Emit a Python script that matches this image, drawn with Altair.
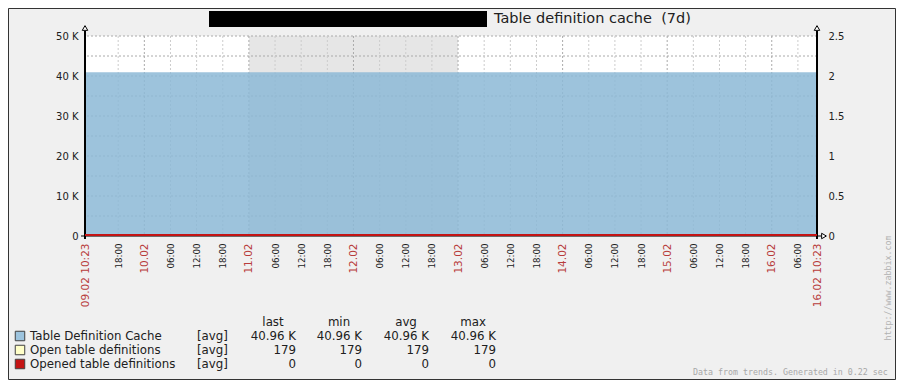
import altair as alt
import pandas as pd

# ---------------- data ----------------
TITLE = "Table definition cache\u00a0 (7d)"
times = ["2017-02-09T10:23:00Z", "2017-02-16T10:23:00Z"]
cache_vals = [40960, 40960]          # Table Definition Cache
open_vals = [179, 179]               # Open table definitions
opened_vals = [0, 0]                 # Opened table definitions (right axis)
weekend_start = ["2017-02-11T00:00:00Z"]
weekend_end = ["2017-02-13T00:00:00Z"]

left_ticks = [0, 10000, 20000, 30000, 40000, 50000]
left_grid = [5000, 10000, 15000, 20000, 25000, 30000, 35000, 40000, 45000, 50000]
right_ticks = [0, 0.5, 1, 1.5, 2, 2.5]

series_names = ["Table Definition Cache", "Open table definitions", "Opened table definitions"]
legend_func = ["[avg]", "[avg]", "[avg]"]
col_last = ["40.96 K", "179", "0"]
col_min = ["40.96 K", "179", "0"]
col_avg = ["40.96 K", "179", "0"]
col_max = ["40.96 K", "179", "0"]
headers = ["last", "min", "avg", "max"]
footer = "Data from trends. Generated in 0.22 sec"
watermark = "http://www.zabbix.com"

# ---------------- styles ----------------
AREA_COLOR = "#8CB9D6"
SWATCHES = ["#9DC4DE", "#FFFFC8", "#C41414"]
RED = "#C41414"
YELLOW = "#F0E890"
TEXT = "#202020"
DATE_RED = "#B83C3C"
FONT = "DejaVu Sans"
MONO = "DejaVu Sans Mono"

W, H = 732, 200

t0 = pd.Timestamp(times[0])
t1 = pd.Timestamp(times[1])
ms0 = int(t0.value // 10**6)
ms1 = int(t1.value // 10**6)
grid_times = pd.date_range("2017-02-09T18:00:00Z", "2017-02-16T06:00:00Z", freq="6h")
grid_ms = [int(t.value // 10**6) for t in grid_times]
x_tick_ms = [ms0] + grid_ms + [ms1]

xs = alt.Scale(type="utc", domain=[ms0, ms1], nice=False)
yl = alt.Scale(domain=[0, 50000], nice=False, zero=False)
yr = alt.Scale(domain=[0, 2.5], nice=False, zero=False)

IS_DATE = "utcminutes(datum.value) != 0 || utchours(datum.value) == 0"
x_axis = alt.Axis(
    values=x_tick_ms,
    labelExpr="utcminutes(datum.value) != 0 ? utcFormat(datum.value, '%d.%m %H:%M') : "
              "(utchours(datum.value) == 0 ? utcFormat(datum.value, '%d.%m') : utcFormat(datum.value, '%H:%M'))",
    labelAngle=270,
    labelColor={"condition": {"test": IS_DATE, "value": DATE_RED}, "value": TEXT},
    labelFontSize={"condition": {"test": IS_DATE, "value": 10.5}, "value": 8.7},
    labelFont=FONT, labelPadding=7,
    ticks=False, domain=False, grid=False, title=None,
    labelOverlap=False, labelFlush=False, labelBound=False,
)


def X(field):
    return alt.X(field, scale=xs, axis=x_axis)


series = pd.DataFrame({"time": times, "cache": cache_vals, "open": open_vals, "opened": opened_vals})
weekend = pd.DataFrame({"start": weekend_start, "end": weekend_end})
hgrid = pd.DataFrame({"v": left_grid})
vgrid = pd.DataFrame({"time": [t.strftime("%Y-%m-%dT%H:%M:%SZ") for t in grid_times]})
ends = pd.DataFrame({"time": times})
span = pd.DataFrame({"time": [times[0]], "time_end": [times[1]]})
endpt = pd.DataFrame({"time": [times[1]]})

layers = []

# white plot background
layers.append(alt.Chart(span).mark_rect(color="white").encode(
    x=X("time:T"), x2="time_end:T",
    y=alt.YDatum(0, scale=yl, axis=None), y2=alt.Y2Datum(50000)))

# weekend shading
layers.append(alt.Chart(weekend).mark_rect(color="#E6E6E6").encode(
    x=X("start:T"), x2="end:T",
    y=alt.YDatum(0, scale=yl, axis=None), y2=alt.Y2Datum(50000)))

# horizontal grid
layers.append(alt.Chart(hgrid).mark_rule(color="#AAAAAA", strokeDash=[2, 2], strokeWidth=1).encode(
    y=alt.Y("v:Q", scale=yl, axis=None)))

# vertical grid
layers.append(alt.Chart(vgrid).mark_rule(strokeDash=[2, 2], strokeWidth=1).encode(
    x=X("time:T"),
    color=alt.condition("utchours(datum.time) == 0", alt.value("#AAAAAA"), alt.value("#CCCCCC"))))

# filled area (left axis)
layers.append(alt.Chart(series).mark_area(color=AREA_COLOR, opacity=0.85).encode(
    x=X("time:T"),
    y=alt.Y("cache:Q", scale=yl, axis=alt.Axis(
        values=left_ticks, labelExpr="datum.value == 0 ? '0' : format(datum.value / 1000, 'd') + ' K'",
        domain=False, ticks=False, grid=False, title=None, labelFontSize=10, labelFont=FONT,
        labelColor=TEXT, labelPadding=7, labelBound=False, labelFlush=False))))

# yellow line (left axis, hidden near bottom)
layers.append(alt.Chart(series).mark_line(color=YELLOW, strokeWidth=1).encode(
    x=X("time:T"),
    y=alt.Y("open:Q", scale=yl, axis=None)))

# axis lines
layers.append(alt.Chart(span).mark_rule(color="black", strokeWidth=1, xOffset=-4, x2Offset=4).encode(
    x=X("time:T"), x2="time_end:T",
    y=alt.YDatum(0, scale=yl, axis=None)))
layers.append(alt.Chart(ends).mark_rule(color="black", strokeWidth=2, yOffset=3, y2Offset=-5).encode(
    x=X("time:T"),
    y=alt.YDatum(0, scale=yl, axis=None), y2=alt.Y2Datum(50000)))

# red line (right axis)
layers.append(alt.Chart(series).mark_line(color=RED, strokeWidth=2, yOffset=-1).encode(
    x=X("time:T"),
    y=alt.Y("opened:Q", scale=yr, axis=alt.Axis(
        orient="right", values=right_ticks, labelExpr="'' + datum.value",
        domain=False, ticks=False, grid=False, title=None, labelFontSize=10, labelFont=FONT,
        labelColor=TEXT, labelPadding=11, labelBound=False, labelFlush=False))))

# arrow heads
layers.append(alt.Chart(ends).mark_point(shape="triangle-up", filled=True, fill="white", stroke="black",
                                          strokeWidth=1, size=30, opacity=1, yOffset=-8).encode(
    x=X("time:T"), y=alt.YDatum(50000, scale=yl, axis=None)))
layers.append(alt.Chart(endpt).mark_point(shape="triangle-right", filled=True, fill="white", stroke="black",
                                           strokeWidth=1, size=30, opacity=1, xOffset=7).encode(
    x=X("time:T"), y=alt.YDatum(0, scale=yl, axis=None)))

# title with redacted box
layers.append(alt.Chart(pd.DataFrame({"a": [0]})).mark_rect(color="black").encode(
    x=alt.value(124), x2=alt.value(402), y=alt.value(-25), y2=alt.value(-9)))
layers.append(alt.Chart(pd.DataFrame({"t": [TITLE]})).mark_text(
    align="left", baseline="middle", fontSize=14.5, font=FONT, color=TEXT).encode(
    x=alt.value(409), y=alt.value(-17), text="t:N"))

# legend table
leg = pd.DataFrame({"row": [0, 1, 2], "name": series_names, "func": legend_func,
                    "last": col_last, "min": col_min, "avg": col_avg, "max": col_max,
                    "swatch": SWATCHES})
ROW_Y = alt.Y("row:Q", scale=alt.Scale(domain=[0, 2], range=[300, 328], nice=False, zero=False), axis=None)
layers.append(alt.Chart(leg).mark_square(size=90, filled=True, stroke="#404040", strokeWidth=1, opacity=1).encode(
    x=alt.value(-65), y=ROW_Y, color=alt.Color("swatch:N", scale=None)))
layers.append(alt.Chart(leg).mark_text(align="left", baseline="middle", fontSize=11.8, font=FONT, color=TEXT).encode(
    x=alt.value(-55), y=ROW_Y, text="name:N"))
layers.append(alt.Chart(leg).mark_text(align="left", baseline="middle", fontSize=11.8, font=FONT, color=TEXT).encode(
    x=alt.value(112), y=ROW_Y, text="func:N"))
COL_RIGHT = [211, 277, 344, 411]
for i, col in enumerate(["last", "min", "avg", "max"]):
    layers.append(alt.Chart(leg).mark_text(align="right", baseline="middle", fontSize=11.8, font=FONT, color=TEXT).encode(
        x=alt.value(COL_RIGHT[i]), y=ROW_Y, text=f"{col}:N"))
    layers.append(alt.Chart(pd.DataFrame({"row": [-1], "h": [headers[i]]})).mark_text(
        align="center", baseline="middle", fontSize=11.8, font=FONT, color=TEXT).encode(
        x=alt.value(COL_RIGHT[i] - 23), y=ROW_Y, text="h:N"))

# footer & watermark
layers.append(alt.Chart(pd.DataFrame({"t": [footer]})).mark_text(
    align="left", baseline="middle", fontSize=8.3, font=MONO, color="#A8A8A8").encode(
    x=alt.value(608), y=alt.value(337), text="t:N"))
layers.append(alt.Chart(pd.DataFrame({"t": [watermark]})).mark_text(
    align="center", baseline="middle", fontSize=8.3, font=MONO, color="#B0B0B0", angle=270).encode(
    x=alt.value(804), y=alt.value(252), text="t:N"))

# outer frame
layers.append(alt.Chart(pd.DataFrame({"a": [0]})).mark_rect(filled=False, color="#333333", strokeWidth=1).encode(
    x=alt.value(-76.5), x2=alt.value(810.5), y=alt.value(-27.5), y2=alt.value(343.5)))

chart = alt.layer(*layers).resolve_scale(y="independent").properties(
    width=W, height=H,
    padding={"left": 77, "top": 28, "right": 79, "bottom": 144},
    autosize=alt.AutoSizeParams(type="none"),
    background="#F0F0F0",
).configure_view(stroke=None).configure(font=FONT)

chart.save("out.html", embed_options={"renderer": "svg", "actions": False})
